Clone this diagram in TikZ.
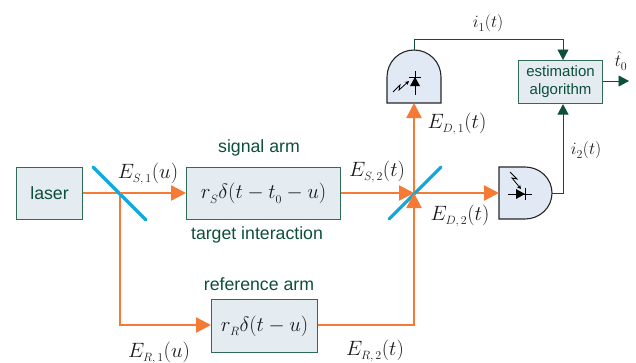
\documentclass[tikz,border=0pt]{standalone}
\usepackage{fontspec}
\setmainfont{Liberation Sans}
\usetikzlibrary{arrows.meta}
\definecolor{dgreen}{HTML}{0E4F3C}
\definecolor{bgreen}{HTML}{2F6B55}
\definecolor{boxfill}{HTML}{E4EBF1}
\definecolor{detfill}{HTML}{E1E9F5}
\definecolor{beam}{HTML}{F57A35}
\definecolor{mirror}{HTML}{12A8DC}
\definecolor{mathc}{HTML}{1A1A1A}
\newcommand{\lowsub}[1]{_{\lower1.5pt\hbox{\fontsize{11.5}{11.5}\selectfont$#1$}}}
\tikzset{
  x=1pt,y=-1pt,
  blockbox/.style={draw=bgreen,line width=1.1pt,fill=boxfill,inner sep=0pt,anchor=north west,text=mathc,font=\fontsize{21.5}{22}\selectfont},
  greentext/.style={text=dgreen,font=\fontsize{17.7}{20}\selectfont,inner sep=0pt,align=center},
  mathlabel/.style={text=mathc,font=\fontsize{20.5}{21}\selectfont,inner sep=0pt},
  beamline/.style={draw=beam,line width=2.4pt},
  beamarrow/.style={beamline,-{Triangle[length=15pt,width=15pt]}},
  sigline/.style={draw=dgreen,line width=0.9pt},
  sigarrow/.style={sigline,-{Triangle[length=10.5pt,width=11pt]}},
  mirrorline/.style={draw=mirror,line width=3.2pt,line cap=round},
  detector/.style={draw=black!85,line width=1.1pt,fill=detfill},
  diodepart/.style={draw=black,line width=0.9pt},
  lightpart/.style={draw=black,line width=0.8pt,-{Stealth[length=4pt,width=4pt]}}
}
\begin{document}
\begin{tikzpicture}
\useasboundingbox (0,0) rectangle (636,362);
% blocks
\node[blockbox,minimum width=66pt,minimum height=52pt] (laser) at (16,167) {};
\node[greentext] (lasertext) at (laser.center) {laser};
\node[blockbox,minimum width=154pt,minimum height=52pt] (signal) at (186,167) {$r\lowsub{S}\delta(t-t\lowsub{0}-u)$};
\node[blockbox,minimum width=106pt,minimum height=53pt] (reference) at (211,299) {$r\lowsub{R}\delta(t-u)$};
\node[blockbox,minimum width=84pt,minimum height=43pt,font=\fontsize{15}{18}\selectfont,text=dgreen,align=center] (estim) at (518,60) {estimation\\algorithm};
% reference points
\coordinate (split) at (120,193);
\coordinate (combine) at (414,193);
\coordinate (corner1) at (120,325);
\coordinate (corner2) at (414,325);
\coordinate (m1a) at (93,167);
\coordinate (m1b) at (146,220);
\coordinate (m2a) at (389,219);
\coordinate (m2b) at (441,167);
\coordinate (d1in) at (414,103);
\coordinate (d1out) at (414,50);
\coordinate (d2in) at (499,193);
\coordinate (d2out) at (552,193);
\coordinate (top1) at (414,39);
\coordinate (top2) at (563,39);
\coordinate (side) at (563,193);
\coordinate (outend) at (629,81);
% detectors
\path[detector] (387,103) -- (387,77) .. controls (387,62) and (399,50) .. (414,50) .. controls (429,50) and (441,62) .. (441,77) -- (441,103) -- cycle;
\path[detector] (499,167) -- (525,167) .. controls (540,167) and (552,178.6) .. (552,193) .. controls (552,207.4) and (540,219) .. (525,219) -- (499,219) -- cycle;
% diode 1
\draw[diodepart] (415,71) -- (415,95);
\draw[diodepart] (409,77) -- (421,77);
\fill[black] (415,77) -- (410,86) -- (420,86) -- cycle;
\draw[lightpart] (393,92) -- (400,85) -- (399,90) -- (409,81);
% diode 2
\draw[diodepart] (508,194) -- (532,194);
\draw[diodepart] (525,188) -- (525,200);
\fill[black] (525,194) -- (516,189) -- (516,199) -- cycle;
\draw[lightpart] (510,172) -- (517,179) -- (512,178) -- (521,189);
% beams
\draw[beamarrow] (laser.east |- split) -- (signal.west |- split);
\draw[beamarrow] (split) -- (corner1) -- (reference.west |- corner1);
\draw[beamline] (reference.east |- corner2) -- (corner2) -- (414,205);
\draw[beamarrow] (signal.east |- combine) -- (combine);
\draw[beamarrow] (combine) -- (d2in);
\draw[beamarrow] (combine) -- (d1in);
\draw[mirrorline] (m1a) -- (m1b);
\draw[mirrorline] (m2a) -- (m2b);
\draw[beamarrow] (corner2) -- (combine);
\draw[beamline] (split) -- (125,193);
% electrical
\draw[sigarrow] (d1out) -- (top1) -- (top2) -- (estim.north -| top2);
\draw[sigarrow] (d2out) -- (side) -- (estim.south -| side);
\draw[sigarrow] (estim.east |- outend) -- (outend);
% text labels
\node[greentext] (lsig) at (259,148) {signal arm};
\node[greentext] (ltar) at (257,235) {target interaction};
\node[greentext] (lref) at (259,284) {reference arm};
% math labels
\node[mathlabel] (es1) at (148,174) {$E\lowsub{S,1}(u)$};
\node[mathlabel] (es2) at (377,172) {$E\lowsub{S,2}(t)$};
\node[mathlabel] (ed1) at (457,124) {$E\lowsub{D,1}(t)$};
\node[mathlabel] (ed2) at (460,216) {$E\lowsub{D,2}(t)$};
\node[mathlabel] (er1) at (159,353) {$E\lowsub{R,1}(u)$};
\node[mathlabel] (er2) at (375,351) {$E\lowsub{R,2}(t)$};
\node[mathlabel,font=\fontsize{18}{19}\selectfont] (i1) at (488,23) {$i\lowsub{1}(t)$};
\node[mathlabel,font=\fontsize{18}{19}\selectfont] (i2) at (586,150) {$i\lowsub{2}(t)$};
\node[mathlabel,font=\fontsize{19}{19}\selectfont] (t0) at (621,61) {$\hat t\lowsub{0}$};
\end{tikzpicture}
\end{document}
